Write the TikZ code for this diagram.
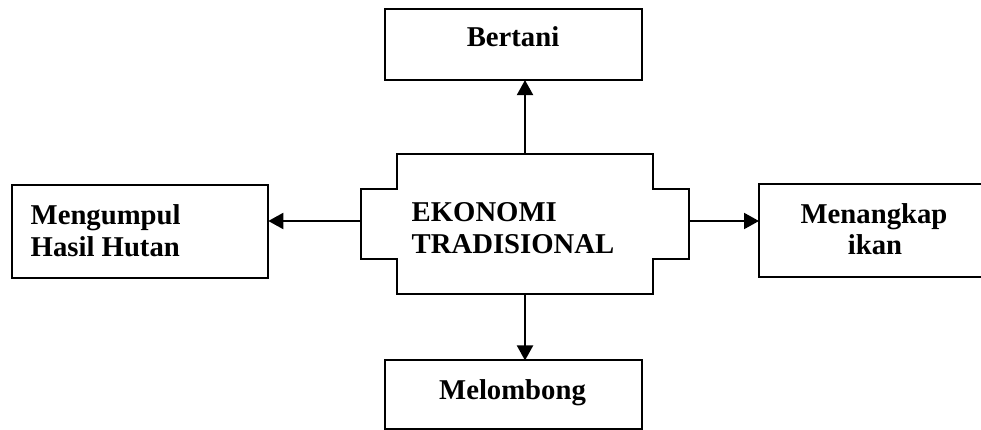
\documentclass[tikz,border=0pt]{standalone}
\usepackage{fontspec}
\setmainfont{Liberation Serif}
\usetikzlibrary{arrows.meta}
\begin{document}
\begin{tikzpicture}[x=1pt,y=-1pt,
  box/.style={draw=black,line width=2pt,rectangle,inner sep=0pt,outer sep=0pt},
  region/.style={rectangle,inner sep=0pt,outer sep=0pt},
  lbl/.style={inner sep=0pt,outer sep=0pt,font=\fontsize{28.7}{32}\selectfont\bfseries},
  conn/.style={line width=2pt,-{Triangle[length=15pt,width=16pt]}}]
\useasboundingbox (0,0) rectangle (981,430);
% boxes
\node[box,minimum width=257pt,minimum height=70.7pt] (bertani) at (513.5,44.7) {};
\node[box,minimum width=257pt,minimum height=68.5pt] (melombong) at (513.5,394.7) {};
\node[box,minimum width=256.6pt,minimum height=93.3pt] (hutan) at (140,231.7) {};
\node[box,minimum width=230pt,minimum height=93.3pt] (ikan) at (874,230.7) {};
% central shape regions
\node[region,minimum width=256pt,minimum height=140pt] (inner) at (525,224) {};
\node[region,minimum width=328pt,minimum height=70pt] (wide) at (525,224) {};
\draw[line width=1.7pt,line join=miter]
  (inner.north west) -- (inner.north east) -- (inner.east |- wide.north)
  -- (wide.north east) -- (wide.south east) -- (inner.east |- wide.south)
  -- (inner.south east) -- (inner.south west) -- (inner.west |- wide.south)
  -- (wide.south west) -- (wide.north west) -- (inner.west |- wide.north) -- cycle;
% texts
\node[lbl,anchor=base] (tb) at (513,46.5) {Bertani};
\node[lbl,anchor=base] (tm) at (512.5,399) {Melombong};
\node[lbl,anchor=base west] (th1) at (30.7,224) {Mengumpul};
\node[lbl,anchor=base west] (th2) at (30.7,256) {Hasil Hutan};
\node[lbl,anchor=base] (ti1) at (874,223) {Menangkap};
\node[lbl,anchor=base] (ti2) at (875,254) {ikan};
\node[lbl,anchor=base west] (te1) at (411.7,221.7) {EKONOMI};
\node[lbl,anchor=base west] (te2) at (411.7,253.3) {TRADISIONAL};
% connectors
\draw[conn] (inner.north) -- (inner.north |- bertani.south);
\draw[conn] (inner.south) -- (inner.south |- melombong.north);
\draw[conn] ([yshift=3pt]wide.west) -- ([yshift=3pt]wide.west -| hutan.east);
\draw[conn] ([yshift=3pt]wide.east) -- ([yshift=3pt]wide.east -| ikan.west);
\end{tikzpicture}
\end{document}
